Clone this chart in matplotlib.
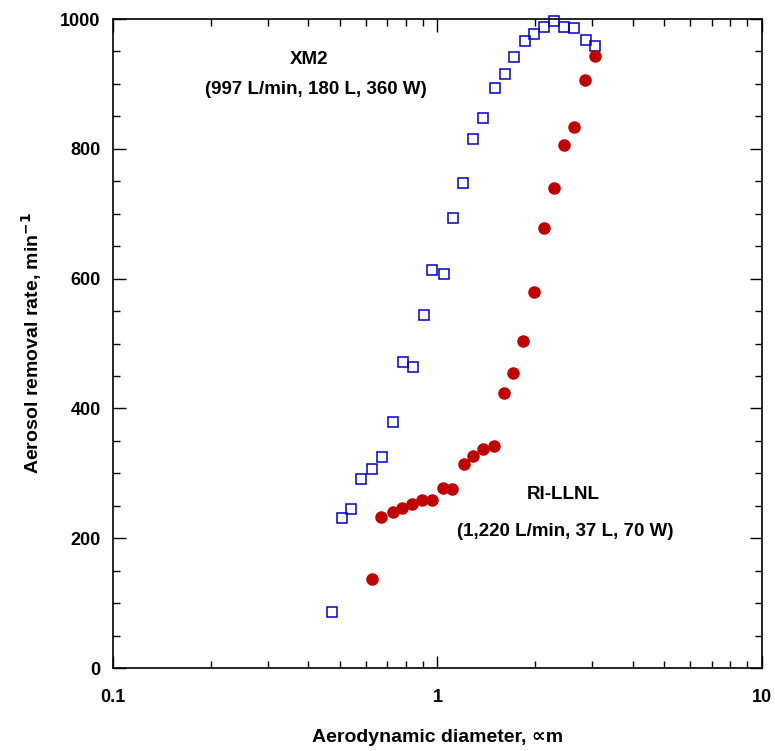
import matplotlib
matplotlib.use("Agg")
import matplotlib.pyplot as plt
from matplotlib.ticker import MultipleLocator, LogLocator, NullFormatter, FixedLocator

plt.rcParams['font.family'] = ['Liberation Sans', 'DejaVu Sans']
plt.rcParams['font.weight'] = 'bold'

# XM2 (open squares)
xm2_d = [0.472, 0.506, 0.543, 0.583, 0.626, 0.673, 0.727, 0.781, 0.838, 0.906,
         0.965, 1.044, 1.114, 1.197, 1.286, 1.382, 1.50, 1.61, 1.72, 1.86,
         1.99, 2.13, 2.29, 2.46, 2.64, 2.86, 3.07]
xm2_rate = [86, 231, 245, 291, 306, 325, 379, 472, 464, 544,
            614, 607, 693, 748, 815, 847, 894, 915, 941, 966,
            977, 988, 997, 988, 986, 967, 958]

# RI-LLNL (filled circles)
ri_d = [0.626, 0.672, 0.727, 0.780, 0.837, 0.899, 0.965, 1.043, 1.112, 1.203,
        1.291, 1.386, 1.498, 1.608, 1.714, 1.840, 1.991, 2.137, 2.294, 2.463,
        2.643, 2.856, 3.05]
ri_rate = [137, 233, 241, 247, 253, 259, 259, 277, 276, 314,
           326, 338, 342, 423, 454, 504, 579, 678, 740, 806,
           833, 906, 943]

fig = plt.figure(figsize=(7.75, 7.51), dpi=100)
ax = fig.add_axes([0.146, 0.1105, 0.837, 0.8642])

ax.plot(xm2_d, xm2_rate, 's', mfc='none', mec='#0000cc', mew=1.1, ms=7.5, clip_on=False)
ax.plot(ri_d, ri_rate, 'o', color='#c00000', ms=8, clip_on=False)

ax.set_xscale('log')
ax.set_xlim(0.1, 10)
ax.set_ylim(0, 1000)
ax.xaxis.set_major_locator(FixedLocator([0.1, 1, 10]))
ax.set_xticklabels(['0.1', '1', '10'])
ax.xaxis.set_minor_locator(LogLocator(base=10, subs=range(2, 10)))
ax.xaxis.set_minor_formatter(NullFormatter())
ax.yaxis.set_major_locator(MultipleLocator(200))
ax.yaxis.set_minor_locator(MultipleLocator(50))

ax.tick_params(which='both', direction='in', top=True, right=True, width=1, labelsize=13)
ax.tick_params(which='major', length=9)
ax.tick_params(which='minor', length=5)
ax.tick_params(axis='x', which='major', pad=15)
ax.tick_params(axis='y', which='major', pad=9)
for s in ax.spines.values():
    s.set_linewidth(1.2)

ax.set_xlabel('Aerodynamic diameter, ∝m', fontsize=14, fontweight='bold', labelpad=17)
ax.set_ylabel('Aerosol removal rate, min$^{\\mathbf{-1}}$', fontsize=14, fontweight='bold', labelpad=12)

ax.text(0.403, 937, 'XM2', ha='center', va='center', fontsize=13.5, fontweight='bold')
ax.text(0.421, 892, '(997 L/min, 180 L, 360 W)', ha='center', va='center', fontsize=13.5, fontweight='bold')
ax.text(2.44, 267, 'RI-LLNL', ha='center', va='center', fontsize=13.5, fontweight='bold')
ax.text(2.48, 210, '(1,220 L/min, 37 L, 70 W)', ha='center', va='center', fontsize=13.5, fontweight='bold')

fig.savefig('out.png', dpi=100)
